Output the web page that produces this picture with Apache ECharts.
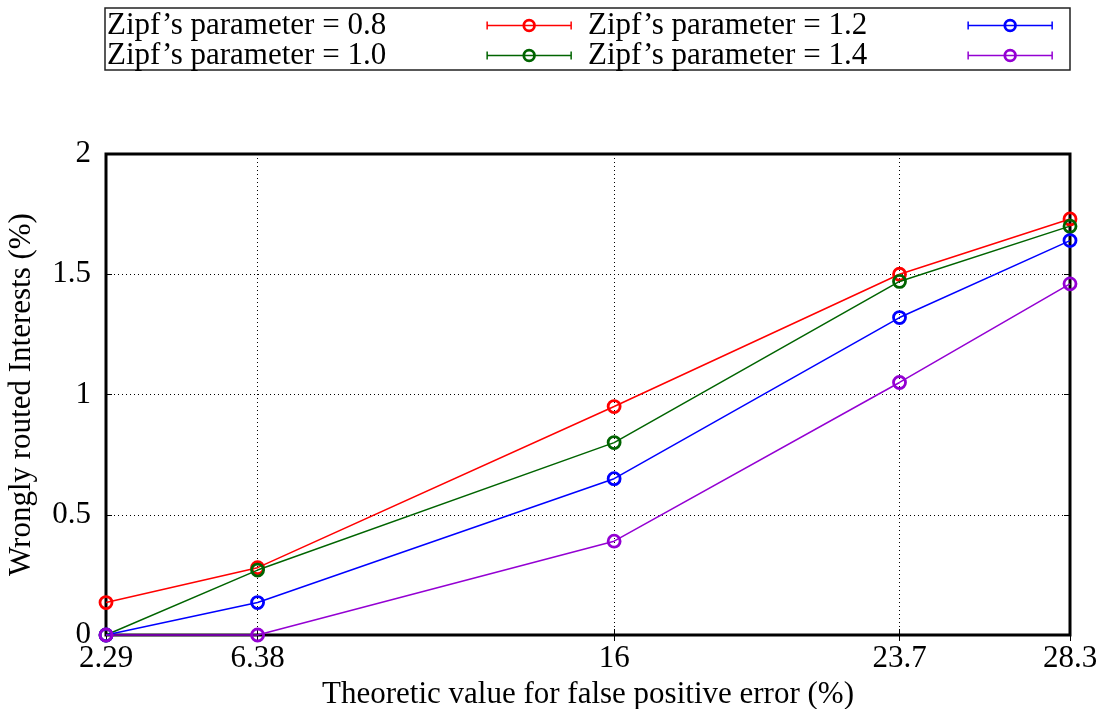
<!DOCTYPE html>
<html>
<head>
<meta charset="utf-8">
<script src="https://cdn.jsdelivr.net/npm/echarts@6/dist/echarts.min.js"></script>
<style>
  html, body { margin: 0; padding: 0; background: #fff; }
  #chart { width: 1104px; height: 709px; }
</style>
</head>
<body>
<div id="chart"></div>
<script>
// Theoretic false positive error (%) at which each run was measured
const falsePositiveTheory = [2.29, 6.38, 16, 23.7, 28.3];

// Wrongly routed Interests (%) per Zipf parameter
const zipf08 = [0.135, 0.28, 0.95, 1.50, 1.73];
const zipf10 = [0.00, 0.27, 0.80, 1.47, 1.70];
const zipf12 = [0.00, 0.135, 0.65, 1.32, 1.64];
const zipf14 = [0.00, 0.00, 0.39, 1.05, 1.46];

const seriesNames = [
  'Zipf’s parameter = 0.8',
  'Zipf’s parameter = 1.0',
  'Zipf’s parameter = 1.2',
  'Zipf’s parameter = 1.4'
];
const seriesValues = [zipf08, zipf10, zipf12, zipf14];
const seriesColors = ['#ff0000', '#006400', '#0000ff', '#9400d3'];

const FONT = 'Liberation Serif, Times New Roman, serif';
const FONT_SIZE = 31;
const dotted = { color: '#000', width: 1, type: [1, 3] };

// Legend sample: line with end caps and an open circle in the middle
const errorBarIcon = 'path://M0,6H84M0,2V10M84,2V10' +
  'M36,6A6,6,0,1,0,48,6A6,6,0,1,0,36,6' +
  'M37.3,6A4.7,4.7,0,1,0,46.7,6A4.7,4.7,0,1,0,37.3,6';

// Legend cells: two columns, two rows (0.8 | 1.2 over 1.0 | 1.4)
const legendCols = [107, 588];
const legendRows = [10, 40];
const legendBox = { x: 105, y: 8, width: 965, height: 62 };

const chart = echarts.init(document.getElementById('chart'), null, { renderer: 'canvas' });

const lineSeries = seriesValues.map((vals, i) => ({
  name: seriesNames[i],
  type: 'line',
  data: falsePositiveTheory.map((x, j) => [x, vals[j]]),
  symbol: 'circle',
  symbolSize: 12,
  clip: false,
  z: 3 + i,
  lineStyle: { color: seriesColors[i], width: 1.5 },
  itemStyle: { color: 'rgba(255,255,255,0)', borderColor: seriesColors[i], borderWidth: 2.8 },
  emphasis: { disabled: true }
}));

// Vertical dotted grid lines at the inner x ticks
const gridSeries = {
  type: 'line',
  data: [],
  z: 1,
  silent: true,
  markLine: {
    z: 1,
    silent: true,
    animation: false,
    symbol: ['none', 'none'],
    label: { show: false },
    lineStyle: dotted,
    data: falsePositiveTheory.slice(1, -1).map(v => ({ xAxis: v }))
  }
};

// One legend component per entry, text first and sample on its right
const legends = seriesNames.map((name, i) => ({
  left: legendCols[Math.floor(i / 2)],
  top: legendRows[i % 2],
  padding: 0,
  itemWidth: 84,
  itemHeight: 12,
  align: 'right',
  icon: errorBarIcon,
  selectedMode: false,
  textStyle: {
    fontFamily: FONT, fontSize: FONT_SIZE, color: '#000',
    padding: [0, 96, 0, 0]
  },
  data: [{
    name: name,
    itemStyle: { color: 'rgba(0,0,0,0)', borderColor: seriesColors[i], borderWidth: 1.5 }
  }]
}));

const tickCommon = { show: true, inside: true, length: 6, lineStyle: { color: '#000', width: 1 } };

chart.setOption({
  animation: false,
  backgroundColor: '#fff',
  legend: legends,
  graphic: [{
    type: 'rect',
    silent: true,
    shape: legendBox,
    style: { fill: 'none', stroke: '#222', lineWidth: 1.5 }
  }],
  grid: {
    left: 106, right: 34, top: 154, bottom: 74,
    outerBoundsMode: 'none',
    containLabel: false,
    show: true, borderColor: '#000', borderWidth: 3, backgroundColor: 'rgba(0,0,0,0)'
  },
  xAxis: [
    {
      type: 'value',
      position: 'bottom',
      min: falsePositiveTheory[0],
      max: falsePositiveTheory[falsePositiveTheory.length - 1],
      axisLine: { show: false },
      splitLine: { show: false },
      axisTick: Object.assign({ customValues: falsePositiveTheory }, tickCommon),
      axisLabel: {
        customValues: falsePositiveTheory,
        margin: 8, fontFamily: FONT, fontSize: FONT_SIZE, color: '#000'
      },
      name: 'Theoretic value for false positive error (%)',
      nameLocation: 'middle',
      nameGap: 38,
      nameTextStyle: { fontFamily: FONT, fontSize: FONT_SIZE, color: '#000' }
    },
    {
      type: 'value',
      position: 'top',
      min: falsePositiveTheory[0],
      max: falsePositiveTheory[falsePositiveTheory.length - 1],
      axisLine: { show: false },
      splitLine: { show: false },
      axisTick: Object.assign({ customValues: falsePositiveTheory }, tickCommon),
      axisLabel: { show: false }
    }
  ],
  yAxis: [
    {
      type: 'value',
      position: 'left',
      min: 0, max: 2, interval: 0.5,
      axisLine: { show: false },
      axisTick: tickCommon,
      splitLine: { show: true, lineStyle: dotted },
      axisLabel: { margin: 15, fontFamily: FONT, fontSize: FONT_SIZE, color: '#000' },
      name: 'Wrongly routed Interests (%)',
      nameLocation: 'middle',
      nameGap: 69,
      nameTextStyle: { fontFamily: FONT, fontSize: FONT_SIZE, color: '#000' }
    },
    {
      type: 'value',
      position: 'right',
      min: 0, max: 2, interval: 0.5,
      axisLine: { show: false },
      axisTick: tickCommon,
      splitLine: { show: false },
      axisLabel: { show: false }
    }
  ],
  series: [gridSeries].concat(lineSeries)
});
</script>
</body>
</html>
